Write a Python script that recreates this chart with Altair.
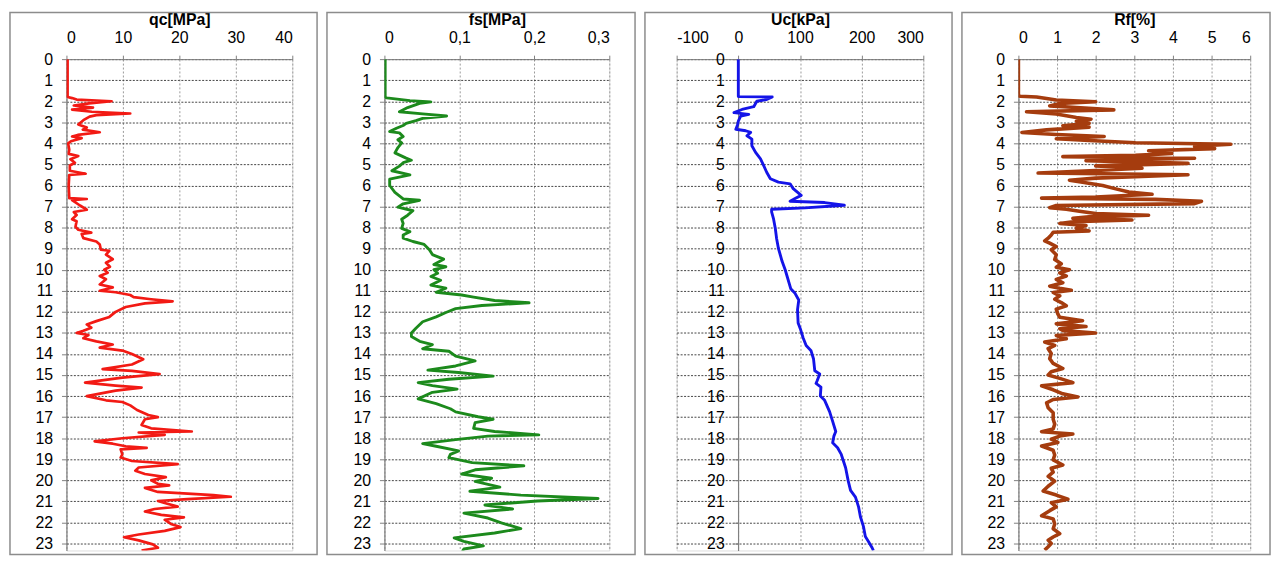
import altair as alt
import pandas as pd

# ---------------- data ----------------
qc_depth = [0, 1.8, 1.85, 1.92, 2.0, 2.1, 2.2, 2.3, 2.4, 2.5, 2.58, 2.66, 2.73, 2.9, 3.1, 3.25, 3.35, 3.47, 3.6, 3.67,
            3.75, 3.9, 4.0, 4.3, 4.5, 4.6, 4.75, 4.92, 5.05, 5.3, 5.44, 5.5, 6.0, 6.6, 6.64, 6.7, 6.95, 7.15, 7.26, 7.4,
            7.6, 7.7, 7.96, 8.1, 8.24, 8.3, 8.5, 8.66, 8.8, 9.05, 9.1, 9.28, 9.5, 9.67, 9.86, 10.0, 10.14, 10.3, 10.45,
            10.7, 10.84, 11.0, 11.07, 11.2, 11.3, 11.4, 11.5, 11.6, 11.77, 12.0, 12.24, 12.44, 12.6, 12.75, 12.9, 13.0,
            13.1, 13.25, 13.4, 13.55, 13.7, 13.84, 14.0, 14.25, 14.5, 14.72, 14.8, 14.96, 15.12, 15.36, 15.5, 15.6,
            15.74, 16.0, 16.2, 16.28, 16.44, 16.66, 16.9, 17.0, 17.1, 17.37, 17.53, 17.68, 17.73, 17.84, 18.0, 18.15,
            18.26, 18.38, 18.46, 18.53, 18.77, 18.92, 19.08, 19.23, 19.39, 19.54, 19.7, 19.85, 20.0, 20.16, 20.24,
            20.36, 20.55, 20.7, 20.78, 20.89, 20.98, 21.08, 21.25, 21.36, 21.48, 21.64, 21.76, 21.87, 22.07, 22.22,
            22.4, 22.57, 22.7, 22.85, 23.04, 23.2, 23.33]
qc_values = [0.2, 0.2, 1.0, 1.8, 8.0, 4.0, 1.3, 4.7, 1.0, 4.5, 11.3, 5.3, 4.1, 3.0, 2.1, 3.6, 2.9, 5.9, 2.0, 1.0,
             2.7, 0.8, 0.3, 0.5, 0.4, 2.1, 0.7, 1.5, 0.6, 0.6, 3.4, 0.5, 0.4, 0.5, 3.6, 1.0, 2.4, 3.6, 1.3, 1.8,
             1.0, 1.8, 1.6, 2.1, 4.4, 2.7, 3.0, 5.3, 5.9, 6.1, 7.6, 7.0, 8.2, 7.0, 7.7, 6.7, 7.3, 5.9, 7.0,
             5.9, 8.2, 5.9, 8.7, 11.3, 11.9, 15.0, 18.8, 13.9, 10.5, 8.7, 7.6, 5.3, 3.6, 4.4, 3.0, 1.8,
             3.9, 3.0, 5.3, 8.2, 5.9, 9.9, 11.6, 13.6, 11.6, 6.4, 11.6, 16.5, 9.9, 3.3, 8.7, 13.3,
             8.7, 3.6, 7.0, 9.9, 11.3, 12.5, 14.5, 16.2, 13.9, 13.3, 15.0, 22.2, 12.8, 17.4, 9.9, 5.0,
             8.2, 10.5, 14.2, 9.6, 9.9, 9.6, 11.6, 19.7, 12.8, 12.2, 13.9, 17.6, 15.0, 16.2, 18.2,
             13.9, 16.2, 26.0, 29.1, 21.4, 16.2, 17.4, 19.7, 15.6, 13.9, 16.8, 20.8, 17.4, 18.5, 20.2,
             17.4, 12.8, 10.2, 12.8, 15.3, 16.2, 13.3]

fs_depth = [0, 1.8, 1.84, 1.97, 2.03, 2.1, 2.3, 2.5, 2.6, 2.7, 2.81, 2.92, 3.05, 3.15, 3.28, 3.44, 3.5, 3.67, 3.83,
            3.98, 4.2, 4.45, 4.7, 4.8, 4.92, 5.08, 5.3, 5.5, 5.7, 5.9, 6.0, 6.33, 6.64, 6.7, 6.87, 7.03, 7.2, 7.41,
            7.6, 7.8, 8.04, 8.19, 8.35, 8.5, 8.66, 8.8, 9.05, 9.28, 9.5, 9.75, 9.86, 10.0, 10.17, 10.32, 10.5, 10.73,
            10.88, 11.07, 11.2, 11.3, 11.46, 11.57, 11.7, 11.85, 12.03, 12.24, 12.47, 12.78, 13.0, 13.17, 13.4,
            13.56, 13.75, 13.87, 14.1, 14.33, 14.57, 14.77, 14.88, 15.05, 15.2, 15.36, 15.5, 15.67, 15.82, 16.13,
            16.36, 16.6, 16.75, 16.98, 17.1, 17.26, 17.53, 17.68, 17.84, 17.9, 18.07, 18.26, 18.38, 18.6, 18.77,
            18.92, 19.16, 19.31, 19.5, 19.7, 19.9, 20.05, 20.32, 20.52, 20.7, 20.86, 20.98, 21.17, 21.36, 21.56,
            21.79, 22.02, 22.29, 22.5, 22.73, 22.9, 23.11, 23.26, 23.37]
fs_values = [0.001, 0.001, 0.003, 0.034, 0.062, 0.047, 0.031, 0.02, 0.051, 0.083, 0.051, 0.042, 0.029, 0.025, 0.016,
             0.007, 0.02, 0.025, 0.018, 0.023, 0.018, 0.014, 0.029, 0.036, 0.025, 0.02, 0.01, 0.034, 0.007, 0.007,
             0.007, 0.014, 0.025, 0.047, 0.025, 0.018, 0.038, 0.031, 0.023, 0.025, 0.023, 0.034, 0.025, 0.025,
             0.038, 0.053, 0.06, 0.064, 0.079, 0.066, 0.082, 0.066, 0.071, 0.062, 0.075, 0.062, 0.082, 0.069,
             0.103, 0.119, 0.147, 0.193, 0.13, 0.095, 0.082, 0.069, 0.051, 0.042, 0.036, 0.036, 0.047, 0.064,
             0.051, 0.086, 0.095, 0.121, 0.095, 0.058, 0.099, 0.145, 0.086, 0.045, 0.064, 0.097, 0.064, 0.045,
             0.069, 0.088, 0.095, 0.125, 0.145, 0.121, 0.119, 0.147, 0.206, 0.138, 0.095, 0.051, 0.069, 0.099,
             0.088, 0.086, 0.117, 0.186, 0.121, 0.103, 0.143, 0.121, 0.154, 0.114, 0.182, 0.285, 0.204, 0.134,
             0.171, 0.106, 0.138, 0.156, 0.182, 0.147, 0.093, 0.106, 0.132, 0.106, 0.104]

uc_depth = [0, 1.78, 1.8, 1.92, 2.0, 2.26, 2.39, 2.54, 2.62, 2.7, 2.94, 3.1, 3.33, 3.4, 3.48, 3.64, 3.8, 4.11, 4.43,
            4.74, 5.05, 5.37, 5.68, 5.84, 5.92, 6.15, 6.47, 6.62, 6.75, 6.81, 6.94, 7.06, 7.13, 7.25, 7.57, 8.04,
            8.5, 8.98, 9.6, 10.0, 10.9, 11.12, 11.44, 11.9, 12.53, 12.84, 13.23, 13.6, 13.85, 14.24, 14.8, 14.95,
            15.26, 15.4, 15.57, 16.0, 16.2, 16.74, 17.2, 17.68, 17.9, 18.22, 18.45, 18.77, 19.4, 20.0, 20.48, 20.8,
            21.26, 21.73, 22.2, 22.67, 22.9, 23.2, 23.33]
uc_values = [0, 0, 55, 46, 30, 25, 6, -7, 17, 4, 0, -1, -4, 12, 20, 14, 22, 22, 28,
             36, 41, 46, 52, 65, 84, 89, 102, 92, 84, 140, 172, 108, 54, 54, 57, 60,
             62, 65, 71, 76, 85, 92, 98, 96, 97, 101, 105, 110, 118, 122, 124, 132,
             128, 126, 134, 133, 140, 148, 153, 158, 155, 153, 161, 167, 174, 178, 182, 190,
             195, 198, 203, 206, 211, 217, 219]

rf_depth = [0, 1.74, 1.76, 1.8, 1.87, 1.94, 2.02, 2.1, 2.22, 2.3, 2.41, 2.5, 2.61, 2.77, 2.85, 2.95, 3.05, 3.16, 3.23,
            3.36, 3.48, 3.58, 3.67, 3.78, 3.86, 3.97, 4.04, 4.14, 4.25, 4.35, 4.48, 4.57, 4.63, 4.71, 4.82, 4.95,
            5.07, 5.18, 5.29, 5.41, 5.49, 5.65, 5.75, 5.85, 6.0, 6.16, 6.31, 6.42, 6.55, 6.6, 6.66, 6.75, 6.86,
            6.95, 7.05, 7.13, 7.22, 7.33, 7.41, 7.49, 7.56, 7.64, 7.72, 7.8, 7.9, 8.03, 8.16, 8.22, 8.35, 8.5,
            8.63, 8.74, 8.9, 9.05, 9.29, 9.52, 9.72, 9.88, 10.0, 10.15, 10.3, 10.46, 10.62, 10.78, 10.88, 10.97,
            11.08, 11.24, 11.4, 11.56, 11.71, 11.87, 12.1, 12.26, 12.42, 12.57, 12.7, 12.8, 12.89, 13.0, 13.12,
            13.28, 13.43, 13.59, 13.75, 13.98, 14.22, 14.45, 14.69, 14.84, 15.0, 15.16, 15.36, 15.51, 15.7,
            15.89, 16.04, 16.16, 16.32, 16.55, 16.79, 17.1, 17.33, 17.56, 17.69, 17.8, 17.9, 18.05, 18.2, 18.37,
            18.57, 18.8, 19.03, 19.27, 19.43, 19.61, 19.81, 20.04, 20.28, 20.51, 20.7, 20.9, 21.06, 21.26, 21.44,
            21.68, 21.83, 22.07, 22.3, 22.53, 22.69, 22.84, 23.0, 23.15, 23.31]
rf_values = [0, 0, 0.05, 0.47, 0.73, 0.98, 2.0, 1.07, 0.81, 1.5, 2.47, 0.21, 0.98, 1.5, 1.88, 1.5, 1.83, 1.15, 1.83,
             0.73, 0.09, 0.98, 2.22, 0.98, 1.83, 3.03, 5.5, 4.56, 5.08, 3.37, 3.97, 3.03, 1.15, 4.56, 1.75, 4.39,
             2.0, 3.2, 2.0, 0.51, 4.39, 2.0, 1.32, 1.66, 2.18, 2.52, 2.86, 3.46, 2.0, 0.6, 3.54, 4.74, 4.56,
             0.98, 0.81, 1.24, 1.58, 2.0, 3.37, 1.83, 1.41, 2.94, 1.41, 1.07, 1.75, 1.5, 1.83, 0.9, 0.85, 0.77,
             0.68, 0.81, 0.98, 0.85, 0.98, 0.94, 1.11, 0.98, 1.32, 1.07, 1.24, 0.98, 1.15, 0.81, 1.07, 1.37,
             0.9, 1.07, 0.94, 1.11, 1.24, 0.98, 1.02, 1.07, 1.66, 0.98, 1.75, 1.07, 1.15, 2.0, 0.98,
             1.24, 0.68, 0.94, 0.77, 0.85, 0.81, 0.9, 1.15, 0.85, 0.77, 1.07, 1.41, 0.6, 0.9,
             1.15, 1.54, 0.9, 0.73, 0.77, 0.9, 0.9, 0.94, 0.9, 0.6, 1.41, 1.07, 0.85, 1.02, 0.6,
             0.9, 0.94, 0.9, 1.15, 0.85, 0.9, 0.77, 0.94, 0.77, 0.64, 0.98, 1.28, 0.85, 0.98, 0.81,
             0.6, 0.9, 0.94, 0.9, 1.07, 0.9, 0.77, 0.85, 0.77, 0.68]

depth_ticks = list(range(0, 24))
depth_domain = [0, 23.33]

titles = ["qc[MPa]", "fs[MPa]", "Uc[kPa]", "Rf[%]"]
x_domains = [[0, 40], [0, 0.3], [-100, 300], [0, 6]]
x_ticks = [[0, 10, 20, 30, 40], [0, 0.1, 0.2, 0.3], [-100, 0, 100, 200, 300], [0, 1, 2, 3, 4, 5, 6]]
colors = ["#f21a14", "#1c8a1c", "#1414e8", "#a53c0e"]

# ---------------- layout / styling ----------------
FONT = "Liberation Sans"
H = 496
widths = [228, 227, 249, 234]
box_left = [-57, -58, -32, -57]
box_right = [25, 26, 29, 20]
stroke_widths = [2.7, 2.9, 2.9, 3.6]


def panel(i, depth, values):
    w = widths[i]
    df = pd.DataFrame({"depth": depth, "value": values})
    if i == 1:
        label_expr = "replace(toString(datum.value), '.', ',')"
    else:
        label_expr = "toString(datum.value)"
    y_offset = -round(w * 100 / 400) if i == 2 else 0
    line = alt.Chart(df).mark_line(
        color=colors[i], strokeWidth=stroke_widths[i], clip=True, strokeJoin="round"
    ).encode(
        x=alt.X("value:Q",
                scale=alt.Scale(domain=x_domains[i], nice=False, zero=False),
                axis=alt.Axis(orient="top", values=x_ticks[i], title=titles[i],
                              labelExpr=label_expr, labelFontSize=16, labelFont=FONT,
                              labelColor="#000", labelPadding=10, tickSize=4, tickColor="#808080",
                              titleFont=FONT, titleFontSize=16, titleFontWeight="bold",
                              titleColor="#000", titlePadding=2,
                              domainColor="#808080", grid=True, gridColor="#9a9a9a",
                              gridDash=[2, 2], gridWidth=1)),
        y=alt.Y("depth:Q",
                scale=alt.Scale(domain=depth_domain, reverse=True, nice=False, zero=False),
                axis=alt.Axis(values=depth_ticks, title=None, labelFontSize=16, labelFont=FONT,
                              labelColor="#000", labelPadding=9, tickSize=5, tickColor="#808080",
                              labelExpr="toString(datum.value)",
                              offset=y_offset, domainColor="#808080", domainWidth=1.2,
                              grid=True, gridColor="#444444", gridDash=[2, 1.5], gridWidth=1)),
        order=alt.Order("depth:Q"),
    )
    frame = alt.Chart(pd.DataFrame({"k": [0]})).mark_rect(
        fillOpacity=0, stroke="#8c8c8c", strokeWidth=1.5
    ).encode(
        x=alt.value(box_left[i]), x2=alt.value(w + box_right[i]),
        y=alt.value(-47), y2=alt.value(H + 4),
    )
    return alt.layer(frame, line).properties(width=w, height=H)


chart = alt.hconcat(
    panel(0, qc_depth, qc_values),
    panel(1, fs_depth, fs_values),
    panel(2, uc_depth, uc_values),
    panel(3, rf_depth, rf_values),
    spacing=6,
).properties(padding=0).configure_view(
    stroke="#808080", strokeWidth=1
).configure(font=FONT, background="white")

chart.save("out.html", embed_options={"renderer": "svg", "actions": False})
